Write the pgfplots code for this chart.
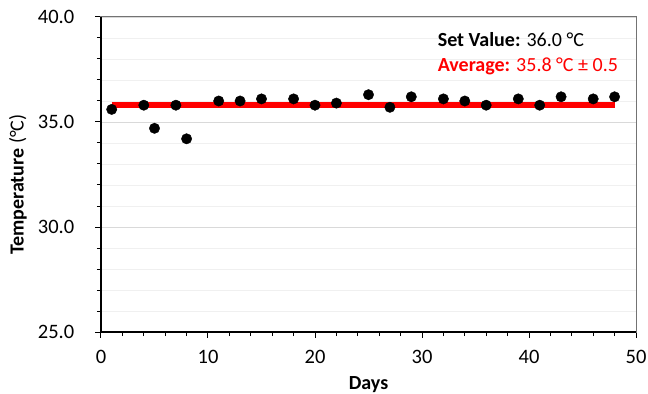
\documentclass[border=0pt]{standalone}
\usepackage{pgfplots}
\pgfplotsset{compat=1.18}
\usepackage{fontspec}
\setmainfont{Carlito}
\definecolor{gridmaj}{gray}{0.85}
\definecolor{gridmin}{gray}{0.94}
\definecolor{frame}{gray}{0.45}
\begin{document}
\begin{tikzpicture}
\useasboundingbox (-101bp,-62bp) rectangle (547bp,332bp);
\begin{axis}[
 at={(0,0)}, anchor=south west,
 scale only axis, width=535bp, height=315bp,
 xmin=0, xmax=50, ymin=25, ymax=40,
 xtick={0,10,...,50}, ytick={25,30,...,40},
 minor xtick={2,4,6,8,12,14,16,18,22,24,26,28,32,34,36,38,42,44,46,48},
 minor ytick={26,27,28,29,31,32,33,34,36,37,38,39},
 tick pos=left, tick align=outside,
 major tick length=5.5bp, minor tick length=4bp,
 ymajorgrids, yminorgrids,
 major grid style={gridmaj, line width=0.8bp},
 minor grid style={gridmin, line width=0.8bp},
 axis line style={frame, line width=1bp},
 tick style={black, line width=1bp},
 yticklabel style={/pgf/number format/fixed, /pgf/number format/fixed zerofill, /pgf/number format/precision=1, anchor=east, inner sep=0pt, xshift=-21bp},
 /pgf/number format/assume math mode=true,
 tick label style={font=\fontsize{20.5bp}{24bp}\selectfont, black},
 xticklabel style={yshift=-9bp},
 xlabel={\textbf{Days}}, ylabel={\textbf{Temperature} (°C)},
 every axis x label/.style={at={(axis description cs:0.5,0)}, yshift=-57bp, anchor=base, font=\fontsize{20bp}{24bp}\selectfont},
 every axis y label/.style={at={(axis description cs:0,0.468)}, xshift=-83bp, rotate=90, anchor=center, font=\fontsize{20bp}{24bp}\selectfont},
 clip=false,
]
\draw[black, line width=1.2bp] (rel axis cs:0,1) -- (rel axis cs:0,0) -- (rel axis cs:1,0);
\addplot[red, line width=5.5bp, forget plot] coordinates {(1,35.8) (48,35.8)};
\addplot[only marks, mark=*, mark size=5.2bp, black] coordinates {
(1,35.6) (4,35.8) (5,34.7) (7,35.8) (8,34.2) (11,36.0) (13,36.0) (15,36.1)
(18,36.1) (20,35.8) (22,35.9) (25,36.3) (27,35.7) (29,36.2) (32,36.1)
(34,36.0) (36,35.8) (39,36.1) (41,35.8) (43,36.2) (46,36.1) (48,36.2)};
\node[anchor=base west, font=\fontsize{20bp}{24bp}\selectfont] at (axis cs:31.15,38.59) {\textbf{Set Value:} 36.0 °C};
\node[anchor=base west, font=\fontsize{20bp}{24bp}\selectfont, red] at (axis cs:31.15,37.40) {\textbf{Average:} 35.8 °C ± 0.5};
\end{axis}
\end{tikzpicture}
\end{document}
